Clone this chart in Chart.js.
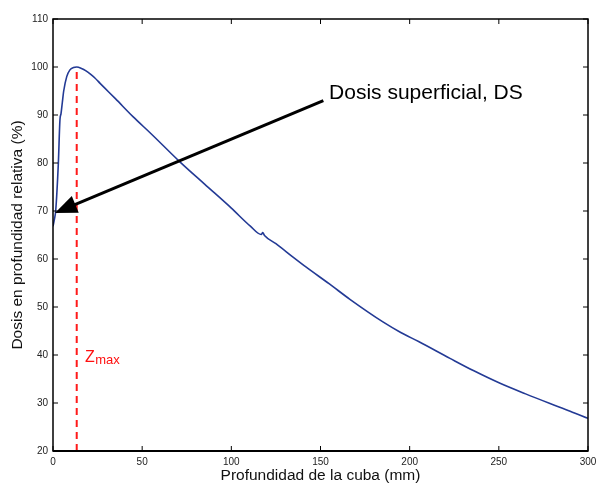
<!DOCTYPE html>
<html>
<head>
<meta charset="utf-8">
<script src="https://cdn.jsdelivr.net/npm/chart.js@4.4.1/dist/chart.umd.min.js"></script>
<style>
  html, body { margin: 0; padding: 0; background: #fff; }
  #wrap { width: 596px; height: 484px; }
</style>
</head>
<body>
<div id="wrap"><canvas id="myChart" width="596" height="484"></canvas></div>
<script>
// curva de dosis en profundidad (mm, %)
const depthMm = [0, 0.8, 1.5, 3, 3.9, 4.5, 5.2, 6, 7.7, 9.5, 11.5, 13.3, 16, 18.5, 21, 23.5, 26.4, 28.8, 35, 45, 55, 71, 85, 100, 110.5, 116.8, 117.6, 118.6, 125, 134.6, 142, 155, 166.5, 185, 195, 205, 222.6, 236, 250.7, 265, 278.7, 290, 300]
const doseRel = [66.8, 68.3, 70, 80, 89, 90.3, 92.5, 95, 98, 99.4, 99.9, 100, 99.7, 99.2, 98.5, 97.7, 96.6, 95.7, 93.4, 89.6, 86.1, 80.3, 75.6, 70.6, 66.9, 65.1, 65.5, 64.9, 63.2, 60.4, 58.3, 54.8, 51.6, 46.9, 44.7, 42.8, 39.3, 36.7, 34.1, 31.9, 29.9, 28.3, 26.8]

const xTicks = [0, 50, 100, 150, 200, 250, 300]
const yTicks = [20, 30, 40, 50, 60, 70, 80, 90, 100, 110]

const zmaxDepth = 13.3
const zmaxLine = [20, 100]
const zmaxLabelAt = { x: 17.9, y: 38.5 }

const arrowFrom = { x: 151.6, y: 93.0 }
const arrowTo = { x: 1.1, y: 69.6 }
const dsLabel = 'Dosis superficial, DS'
const dsLabelAt = { x: 154.8, y: 93.3 }

const FONT = "'Liberation Sans', Arial, sans-serif"

function drawLine(ctx, x1, y1, x2, y2) {
    ctx.beginPath()
    ctx.moveTo(x1, y1)
    ctx.lineTo(x2, y2)
    ctx.stroke()
}

const framePlugin = {
    id: 'frame',
    afterDatasetsDraw(chart) {
        const { ctx, chartArea: a, scales: { x, y } } = chart
        ctx.save()

        // flecha DS
        const x1 = x.getPixelForValue(arrowFrom.x), y1 = y.getPixelForValue(arrowFrom.y)
        const x2 = x.getPixelForValue(arrowTo.x), y2 = y.getPixelForValue(arrowTo.y)
        const ang = Math.atan2(y2 - y1, x2 - x1)
        const headLen = 22, headW = 9
        const bx = x2 - headLen * Math.cos(ang), by = y2 - headLen * Math.sin(ang)
        ctx.strokeStyle = '#000'
        ctx.fillStyle = '#000'
        ctx.lineWidth = 3
        drawLine(ctx, x1, y1, bx + 3 * Math.cos(ang), by + 3 * Math.sin(ang))
        ctx.beginPath()
        ctx.moveTo(x2, y2)
        ctx.lineTo(bx + headW * Math.sin(ang), by - headW * Math.cos(ang))
        ctx.lineTo(bx - headW * Math.sin(ang), by + headW * Math.cos(ang))
        ctx.closePath()
        ctx.fill()

        ctx.font = '21px ' + FONT
        ctx.textBaseline = 'alphabetic'
        ctx.textAlign = 'left'
        ctx.fillText(dsLabel, x.getPixelForValue(dsLabelAt.x), y.getPixelForValue(dsLabelAt.y))

        // Zmax
        ctx.fillStyle = '#ff1010'
        const zx = x.getPixelForValue(zmaxLabelAt.x), zy = y.getPixelForValue(zmaxLabelAt.y)
        ctx.font = '16px ' + FONT
        ctx.fillText('Z', zx, zy)
        const zw = ctx.measureText('Z').width
        ctx.font = '13px ' + FONT
        ctx.fillText('max', zx + zw + 0.5, zy + 2)

        // marco y marcas hacia dentro
        ctx.strokeStyle = '#000'
        ctx.lineWidth = 1
        x.ticks.forEach(t => {
            const px = x.getPixelForValue(t.value)
            drawLine(ctx, px, a.bottom, px, a.bottom - 5)
            drawLine(ctx, px, a.top, px, a.top + 5)
        })
        y.ticks.forEach(t => {
            const py = y.getPixelForValue(t.value)
            drawLine(ctx, a.left, py, a.left + 5, py)
            drawLine(ctx, a.right, py, a.right - 5, py)
        })
        ctx.lineWidth = 1.5
        ctx.strokeRect(a.left, a.top, a.right - a.left, a.bottom - a.top)
        ctx.lineWidth = 2
        drawLine(ctx, a.left, a.bottom, a.right, a.bottom)
        ctx.restore()
    }
}

const data = {
    datasets: [{
        label: 'PDD',
        data: depthMm.map((d, i) => ({ x: d, y: doseRel[i] })),
        borderColor: '#233a95',
        borderWidth: 1.6,
        pointRadius: 0,
        fill: false,
        cubicInterpolationMode: 'monotone'
    }, {
        label: 'zmax',
        data: zmaxLine.map(v => ({ x: zmaxDepth, y: v })),
        borderColor: '#ff1a1a',
        borderWidth: 2,
        borderDash: [7, 5],
        pointRadius: 0,
        fill: false
    }]
}

const config = {
    type: 'line',
    data: data,
    options: {
        responsive: false,
        animation: false,
        layout: { padding: { left: 0, right: 8, top: 19, bottom: 0 } },
        plugins: { legend: { display: false }, tooltip: { enabled: false } },
        scales: {
            x: {
                type: 'linear',
                min: 0,
                max: 300,
                afterBuildTicks: s => { s.ticks = xTicks.map(v => ({ value: v })) },
                afterFit: s => { s.height = 33; s.paddingLeft = 0; s.paddingRight = 0 },
                grid: { display: false, drawTicks: false },
                border: { display: false },
                ticks: { padding: 5, color: '#222', font: { family: FONT, size: 10 }, maxRotation: 0, autoSkip: false },
                title: { display: true, text: 'Profundidad de la cuba (mm)', color: '#111', font: { family: FONT, size: 15.5 }, padding: { top: 0, bottom: -1.5 } }
            },
            y: {
                min: 20,
                max: 110,
                afterBuildTicks: s => { s.ticks = yTicks.map(v => ({ value: v })) },
                afterFit: s => { s.width = 53 },
                grid: { display: false, drawTicks: false },
                border: { display: false },
                ticks: { padding: 5, color: '#222', font: { family: FONT, size: 10 } },
                title: { display: true, text: 'Dosis en profundidad relativa (%)', color: '#111', font: { family: FONT, size: 15.5 }, padding: { top: 8.5, bottom: 0 } }
            }
        }
    },
    plugins: [framePlugin]
}

new Chart(document.getElementById('myChart'), config)
</script>
</body>
</html>
